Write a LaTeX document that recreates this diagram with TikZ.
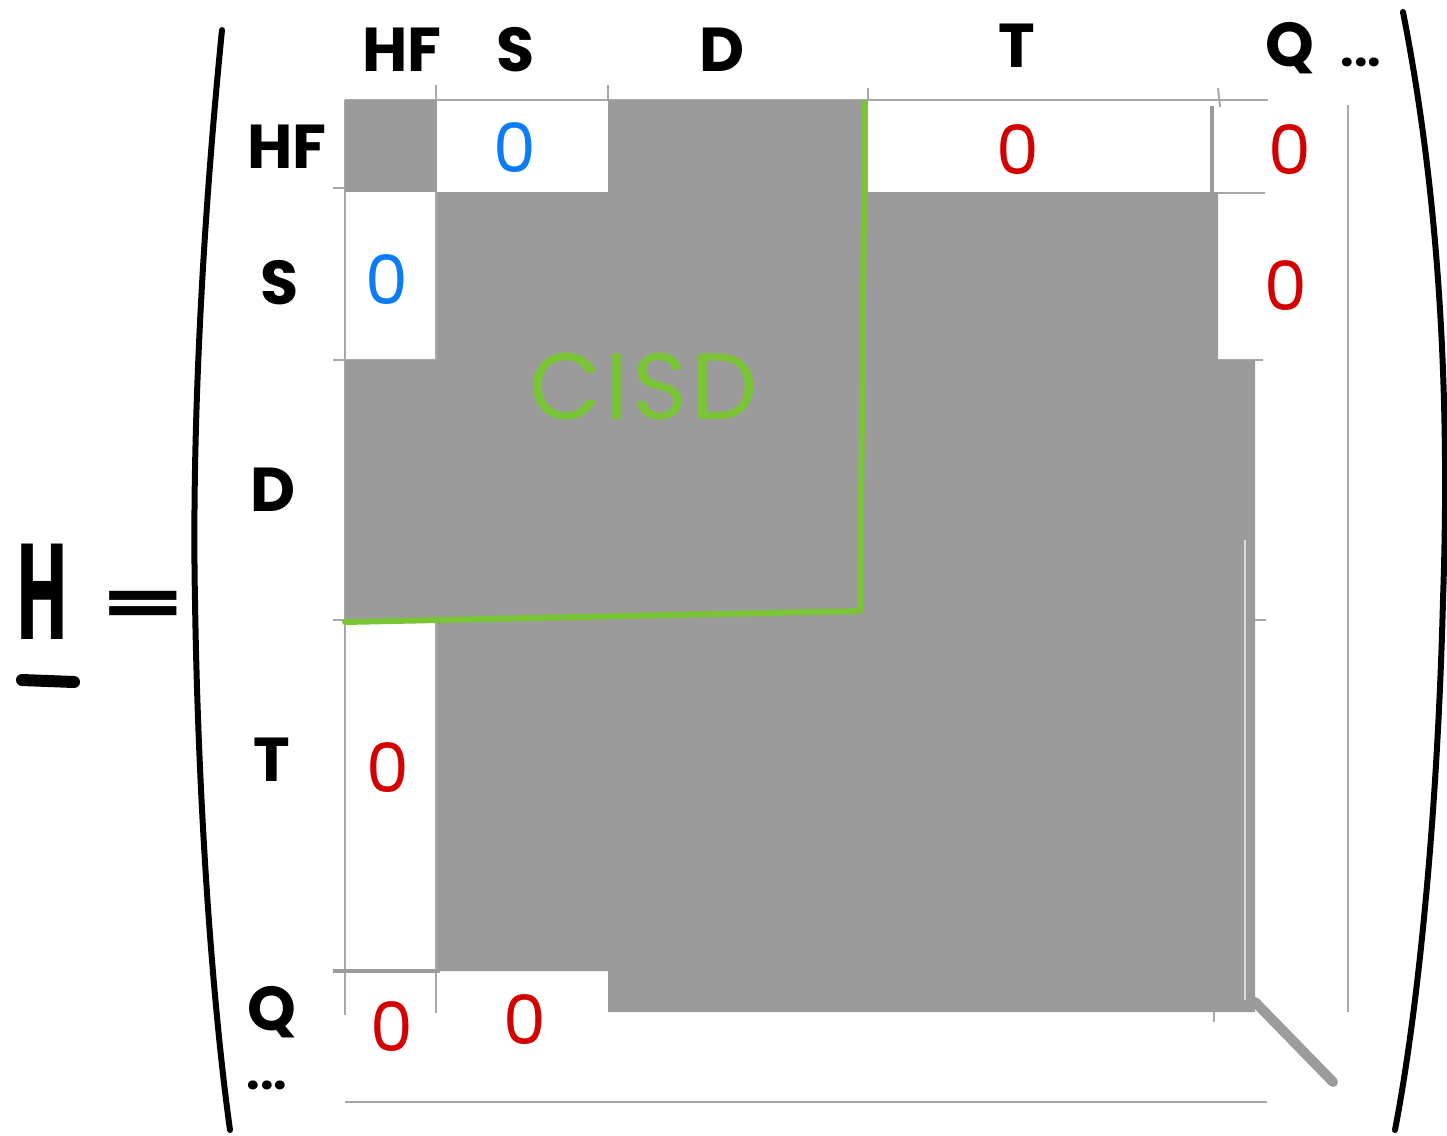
\documentclass[tikz,border=0pt]{standalone}
\usepackage{fontspec}
\setmainfont{Poppins}
\definecolor{gridgray}{HTML}{A8A8A8}
\definecolor{fillgray}{HTML}{9B9B9B}
\definecolor{cisdgreen}{HTML}{7AC536}
\definecolor{zeroblue}{HTML}{0A7CFA}
\definecolor{zerored}{HTML}{D40000}
\begin{document}
\begin{tikzpicture}[x=0.5pt,y=-0.5pt,
  gridline/.style={draw=gridgray,line width=1pt},
  heavygray/.style={draw=fillgray,line width=2pt},
  block/.style={fill=fillgray},
  lab/.style={font=\fontsize{31}{31}\selectfont\bfseries,text=black,inner sep=0pt},
  zero/.style={font=\fontsize{34}{34}\selectfont,inner sep=0pt},
  zb/.style={zero,text=zeroblue},
  zr/.style={zero,text=zerored},
  bracket/.style={draw=black,line width=3pt,line cap=round,line join=round}]
\useasboundingbox (0,0) rectangle (1447,1136);

% grid lines
\draw[gridline] (345,100) -- (1268,100);
\draw[gridline] (333,188) -- (345,188);
\draw[gridline] (868,193) -- (1265,193);
\draw[gridline] (333,360) -- (1263,360);
\draw[gridline] (333,620) -- (1266,620);
\draw[gridline] (345,1102) -- (1267,1102);
\draw[gridline] (345,100) -- (345,1015);
\draw[gridline] (436,85) -- (436,1013);
\draw[gridline] (608,85) -- (608,100);
\draw[gridline] (868,88) -- (868,100);
\draw[gridline] (1218,88) -- (1220,107);
\draw[gridline] (1214,1010) -- (1214,1022);
\draw[gridline] (1348,105) -- (1348,1012);
\draw[heavygray] (333,971) -- (440,971);

% shaded blocks
\fill[block] (345,100) rectangle (437,192);
\fill[block] (608,100) rectangle (868,192);
\fill[block] (437,192) -- (1218,192) -- (1218,360) -- (1255,360) -- (1255,1012)
  -- (608,1012) -- (608,971) -- (437,971) -- (437,620) -- (345,620)
  -- (345,360) -- (437,360) -- cycle;
\draw[heavygray] (1212,106) -- (1212,193);
\draw[draw=gridgray!40,line width=0.6pt] (1245,540) -- (1245,1000);
\draw[draw=fillgray,line width=5pt,line cap=round] (1255,1002) -- (1333,1082);

% CISD border
\draw[draw=cisdgreen,line width=3pt,line cap=round,line join=round]
  (345,622) -- (860,611) -- (865,103);
\node[font=\fontsize{47}{47}\selectfont\addfontfeature{LetterSpace=4},text=cisdgreen,inner sep=0pt] (cisd) at (644,387) {CISD};

% column labels
\node[lab] (cHF) at (402,50) {HF};
\node[lab] (cS) at (516,50) {S};
\node[lab] (cD) at (722,50) {D};
\node[lab] (cT) at (1017,46) {T};
\node[lab] (cQ) at (1290,48) {Q};
\node[lab,font=\fontsize{24}{24}\selectfont\bfseries] (cdots) at (1361,62) {...};

% row labels
\node[lab] (rHF) at (287,147) {HF};
\node[lab] (rS) at (280,283) {S};
\node[lab] (rD) at (273,490) {D};
\node[lab] (rT) at (272,760) {T};
\node[lab] (rQ) at (272,1012) {Q};
\node[lab,font=\fontsize{24}{24}\selectfont\bfseries] (rdots) at (267,1085) {...};

% zero blocks
\node[zb] (z1) at (515,148) {0};
\node[zb] (z2) at (387,280) {0};
\node[zr] (z3) at (1018,150) {0};
\node[zr] (z4) at (1290,150) {0};
\node[zr] (z5) at (1286,286) {0};
\node[zr] (z6) at (388,768) {0};
\node[zr] (z7) at (392,1027) {0};
\node[zr] (z8) at (525,1020) {0};

% H =
\node[font=\fontsize{68}{68}\selectfont\bfseries,xscale=0.5,inner sep=0pt] (H) at (42,592) {H};
\draw[line width=6pt,line cap=round] (22,680) -- (74,682);
\node[font=\fontsize{60}{60}\selectfont\bfseries,yscale=0.5,inner sep=0pt] (eq) at (143,608) {=};

% brackets
\draw[bracket] (222,30) .. controls (200,250) and (192,450) .. (195,600)
  .. controls (198,800) and (212,1000) .. (230,1130);
\draw[bracket] (1403,12) .. controls (1440,200) and (1450,400) .. (1443,600)
  .. controls (1438,800) and (1420,1000) .. (1395,1130);
\end{tikzpicture}
\end{document}
